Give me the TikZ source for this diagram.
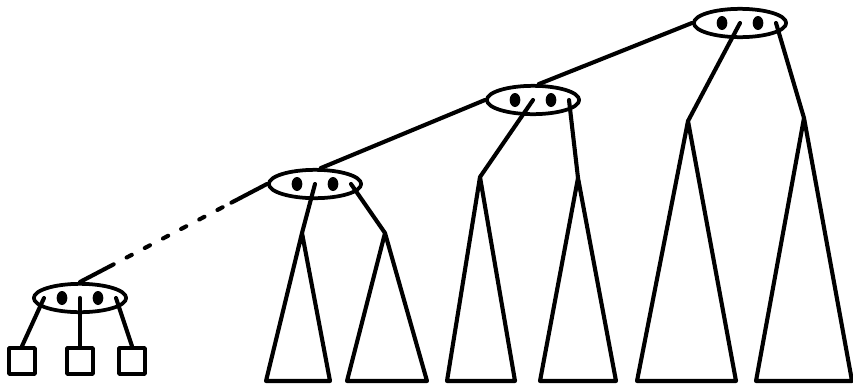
\documentclass[tikz,border=0pt]{standalone}
\usetikzlibrary{shapes.geometric,calc}
\begin{document}
\begin{tikzpicture}[
    x=0.03cm, y=-0.03cm,
    line width=3.5pt, line cap=round, line join=round,
    bnode/.style={ellipse, draw, line width=3.2pt, minimum width=2.77cm, minimum height=0.85cm, inner sep=0pt},
    key/.style={ellipse, fill, minimum width=0.32cm, minimum height=0.42cm, inner sep=0pt},
    leaf/.style={rectangle, draw, line width=3.2pt, minimum size=0.78cm, inner sep=0pt},
    gap/.style={dash pattern=on 5pt off 12.5pt, dash phase=5pt}
]
    \useasboundingbox (0,0) rectangle (853,386);

    \node[bnode] (n0) at (80,298) {};
    \node[bnode] (n1) at (315,184) {};
    \node[bnode] (n2) at (533,100) {};
    \node[bnode] (n3) at (740,23) {};
    \foreach \n in {n0,n1,n2,n3} {
        \node[key] (\n-k1) at ($(\n.center)+(-18,0)$) {};
        \node[key] (\n-k2) at ($(\n.center)+(18,0)$) {};
        \coordinate (\n-l) at ($(\n.center)+(-36,0)$);
        \coordinate (\n-m) at (\n.center);
        \coordinate (\n-r) at ($(\n.center)+(36,0)$);
    }

    \node[leaf] (p1) at (22,361) {};
    \node[leaf] (p2) at (80,361) {};
    \node[leaf] (p3) at (132,361) {};
    \draw (n0-l) -- (p1.north);
    \draw (n0-m) -- (p2.north);
    \draw (n0-r) -- (p3.north);

    \coordinate (d0) at ($(n0.north)!0.18!(n1.west)$);
    \coordinate (d1) at ($(n0.north)!0.81!(n1.west)$);
    \draw (n0.north) -- (d0);
    \draw[gap] (d0) -- (d1);
    \draw (d1) -- (n1.west);
    \draw (n1.70) -- (n2.west);
    \draw (n2.70) -- (n3.west);

    \foreach \i/\ax/\ay/\bl/\br in {1/302/233/266/330, 2/385/233/347/427, 3/480/177/447/515,
                                    4/578/178/540/616, 5/688/121/637/736, 6/804/118/756/852} {
        \coordinate (a\i) at (\ax,\ay);
        \draw (a\i) -- (\bl,381) -- (\br,381) -- cycle;
    }
    \draw (n1-m) -- (a1);
    \draw (n1-r) -- (a2);
    \draw (n2-m) -- (a3);
    \draw (n2-r) -- (a4);
    \draw (n3-m) -- (a5);
    \draw (n3-r) -- (a6);
\end{tikzpicture}
\end{document}
